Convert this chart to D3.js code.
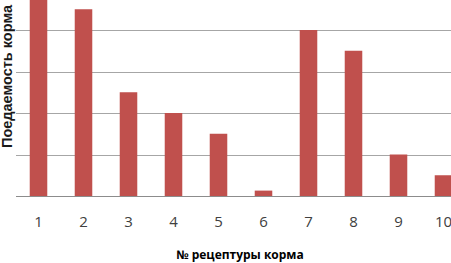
<!DOCTYPE html>
<html>
<head>
<meta charset="utf-8">
<script src="https://cdn.jsdelivr.net/npm/d3@7"></script>
<style>
  body { margin: 0; background: #fff; }
  svg { display: block; }
</style>
</head>
<body>
<script>
var recipes = ['1', '2', '3', '4', '5', '6', '7', '8', '9', '10'];
var intake = [5.0, 4.5, 2.5, 2.0, 1.5, 0.13, 4.0, 3.5, 1.0, 0.5];
var gridTicks = [0, 1, 2, 3, 4];

var width = 451;
var height = 263;
var margin = {left: 16, top: 30, bottom: 67};

var svg = d3.select('body')
  .append('svg')
  .attr('width', width)
  .attr('height', height);

var x = d3.scaleBand()
    .domain(recipes)
    .range([margin.left, margin.left + 450])
    .paddingInner(0.61)
    .paddingOuter(0.305);

var y = d3.scaleLinear()
    .domain([0, 4])
    .range([height - margin.bottom, margin.top]);

// gridlines
svg.append('g')
  .selectAll('line')
  .data(gridTicks)
  .enter()
  .append('line')
  .attr('x1', margin.left)
  .attr('x2', width)
  .attr('y1', function(d){ return Math.round(y(d)) + 0.5; })
  .attr('y2', function(d){ return Math.round(y(d)) + 0.5; })
  .attr('stroke', function(d){ return d === 0 ? '#8c8c8c' : '#a6a6a6'; })
  .attr('stroke-width', 1.2);

svg.append('g')
  .selectAll('rect')
  .data(intake)
  .enter()
  .append('rect')
  .attr('x', function(d, i){ return x(recipes[i]); })
  .attr('width', x.bandwidth())
  .attr('y', function(d){ return y(d); })
  .attr('height', function(d){ return y(0) - y(d); })
  .attr('fill', '#c0504d');

var xAxis = d3.axisBottom(x).tickSize(0).tickPadding(20);
var gx = svg.append('g')
  .attr('transform', 'translate(0,' + y(0) + ')')
  .call(xAxis);
gx.select('.domain').remove();
gx.selectAll('text')
  .attr('font-family', '"Open Sans", sans-serif')
  .attr('font-size', 15)
  .attr('fill', '#404040');

svg.append('text')
  .attr('x', 240)
  .attr('y', 259)
  .attr('text-anchor', 'middle')
  .attr('font-family', '"Open Sans", sans-serif')
  .attr('font-weight', 'bold')
  .attr('font-size', 12)
  .attr('fill', '#000')
  .text('№ рецептуры корма');

svg.append('text')
  .attr('transform', 'translate(12,148) rotate(-90)')
  .attr('text-anchor', 'start')
  .attr('font-family', '"Liberation Sans", Arial, sans-serif')
  .attr('font-weight', 'bold')
  .attr('font-size', 14.5)
  .attr('fill', '#1a1a1a')
  .text('Поедаемость корма');
</script>
</body>
</html>
